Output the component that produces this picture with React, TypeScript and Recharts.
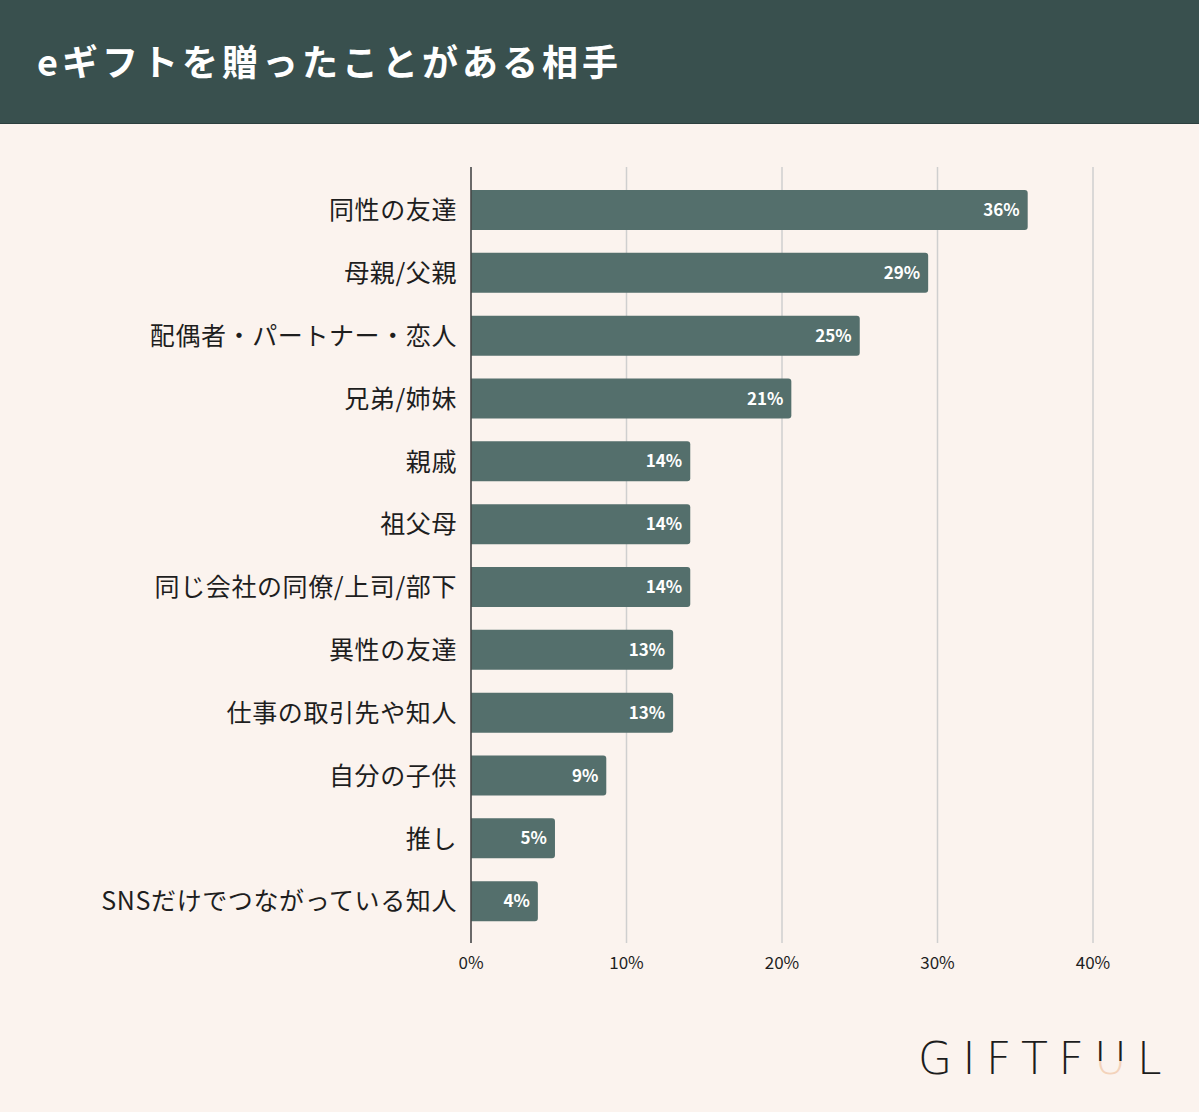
import React from "react";
import { BarChart, Bar, XAxis, YAxis, CartesianGrid, LabelList } from "recharts";

const categories = [
  "同性の友達",
  "母親/父親",
  "配偶者・パートナー・恋人",
  "兄弟/姉妹",
  "親戚",
  "祖父母",
  "同じ会社の同僚/上司/部下",
  "異性の友達",
  "仕事の取引先や知人",
  "自分の子供",
  "推し",
  "SNSだけでつながっている知人",
];
const values = [35.8, 29.4, 25.0, 20.6, 14.1, 14.1, 14.1, 13.0, 13.0, 8.7, 5.4, 4.3];
const valueLabels = ["36%", "29%", "25%", "21%", "14%", "14%", "14%", "13%", "13%", "9%", "5%", "4%"];
const xTicks = [0, 10, 20, 30, 40];

const data = categories.map((name, i) => ({ name, value: values[i], label: valueLabels[i] }));

const FONT = "'Noto Sans CJK JP', 'Noto Sans', sans-serif";

export default function App() {
  return (
    <div
      style={{
        position: "absolute",
        left: 0,
        top: 0,
        width: 1199,
        height: 1112,
        background: "#fbf3ee",
        overflow: "hidden",
        fontFamily: FONT,
      }}
    >
      <div
        style={{
          position: "absolute",
          left: 0,
          top: 0,
          width: 1199,
          height: 124,
          background: "#39504e",
          borderBottom: "1px solid #2c3f3e",
          boxSizing: "border-box",
        }}
      >
        <div
          style={{
            position: "absolute",
            left: 37,
            top: 35,
            color: "#ffffff",
            fontSize: 36,
            fontWeight: 700,
            lineHeight: "50px",
            letterSpacing: 4,
          }}
        >
          eギフトを贈ったことがある相手
        </div>
      </div>
      <div style={{ position: "absolute", left: 0, top: 0 }}>
        <BarChart
          width={1199}
          height={1112}
          data={data}
          layout="vertical"
          margin={{ top: 167, right: 106, bottom: 129, left: 0 }}
          barCategoryGap={11}
        >
          <CartesianGrid horizontal={false} vertical={true} stroke="#cfcfcf" strokeWidth={1.5} />
          <XAxis
            type="number"
            domain={[0, 40]}
            ticks={xTicks}
            tickFormatter={(v: number) => `${v}%`}
            axisLine={false}
            tickLine={false}
            tickSize={0}
            tickMargin={14}
            height={40}
            tick={{ fill: "#1e1e1e", fontSize: 17, fontFamily: FONT }}
          />
          <YAxis
            type="category"
            dataKey="name"
            width={471}
            tickLine={false}
            tickSize={0}
            tickMargin={14}
            axisLine={{ stroke: "#444", strokeWidth: 1.5 }}
            padding={{ top: 12, bottom: 10 }}
            interval={0}
            tick={{ fill: "#1e1e1e", fontSize: 25, fontFamily: FONT, letterSpacing: 0.6 }}
          />
          <Bar dataKey="value" fill="#546f6c" barSize={40} radius={[0, 3, 3, 0]} isAnimationActive={false}>
            <LabelList
              dataKey="label"
              position="insideRight"
              offset={8}
              fill="#ffffff"
              fontSize={17}
              fontWeight={700}
              fontFamily={FONT}
            />
          </Bar>
        </BarChart>
      </div>
      <svg style={{ position: "absolute", left: 900, top: 1020 }} width={299} height={92}>
        <defs>
          <linearGradient id="ug" x1="0" y1="0" x2="0" y2="1">
            <stop offset="0.55" stopColor="#1c1c1c" />
            <stop offset="0.55" stopColor="#f3d3bb" />
          </linearGradient>
        </defs>
        <text
          x={18}
          y={54}
          fontSize={44}
          fontFamily="'DejaVu Sans', sans-serif"
          fontWeight={300}
          letterSpacing={10.5}
          fill="#1c1c1c"
        >
          GIFTF
          <tspan fill="url(#ug)">U</tspan>L
        </text>
      </svg>
    </div>
  );
}
